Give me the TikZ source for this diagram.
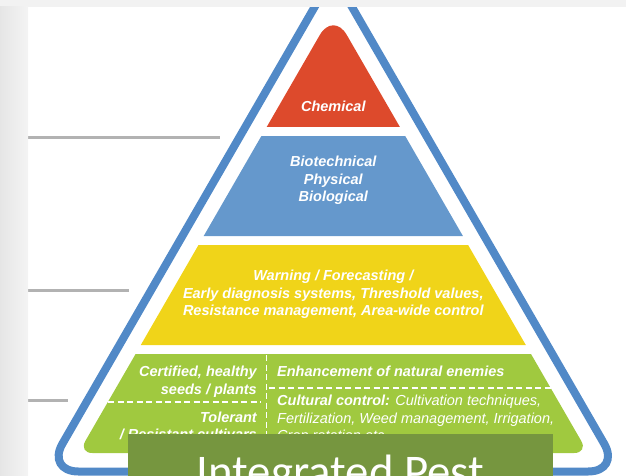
\documentclass[tikz,border=0pt]{standalone}
\usepackage{fontspec}
\usetikzlibrary{positioning}
\newfontfamily\tierfont{Liberation Sans}
\newfontfamily\titlefont{Carlito}
\definecolor{chemred}{RGB}{221,74,44}
\definecolor{techblue}{RGB}{101,152,204}
\definecolor{warnyellow}{RGB}{240,212,25}
\definecolor{cropgreen}{RGB}{160,201,63}
\definecolor{frameblue}{RGB}{81,137,199}
\definecolor{titlegreen}{RGB}{118,150,63}
\definecolor{rulegray}{RGB}{178,178,178}

\begin{document}
\begin{tikzpicture}[x=1pt,y=-1pt,
    tierbold/.style={text=white, inner sep=0pt, anchor=base, font=\tierfont\bfseries\itshape\fontsize{14.5}{17.5}\selectfont},
    tierlight/.style={tierbold, font=\tierfont\itshape\fontsize{14.5}{17.5}\selectfont},
    divider/.style={white, line width=1.4pt, dash pattern=on 6pt off 3.5pt},
    marker/.style={rulegray, line width=3pt}
]
\useasboundingbox (0,0) rectangle (626,476);
\clip (0,0) rectangle (626,476);

% level markers on the left
\draw[marker] (28,137) -- (220,137);
\draw[marker] (28,290) -- (129,290);
\draw[marker] (28,400) -- (68,400);

% outer frame
\draw[frameblue, line width=8pt, rounded corners=32pt] (333.3,-25.4) -- (46.4,471.5) -- (620.2,471.5) -- cycle;

% pyramid levels
\fill[chemred] (266.7,127) [rounded corners=27pt] -- (333.3,11.6) [sharp corners] -- (399.9,127) -- cycle;
\fill[techblue] (261.4,136) -- (203.7,236) -- (462.9,236) -- (405.2,136) -- cycle;
\fill[warnyellow] (198.5,245) -- (140.8,345) -- (525.8,345) -- (468.1,245) -- cycle;
\fill[cropgreen] (531.0,354) -- (135.6,354) [rounded corners=14pt] -- (78.4,453) -- (588.2,453) [sharp corners] -- cycle;

% dashed splits of the base level
\draw[divider] (266.7,355) -- (266.7,453);
\draw[divider] (108,402) -- (261,402);
\draw[divider] (269,388) -- (550.6,388);

\node[tierbold] (chem) at (333.3,112) {Chemical};

\node[tierbold] (biotech) at (333.3,166.7) {Biotechnical};
\node[tierbold] (phys) at (333.3,184.2) {Physical};
\node[tierbold] (bio) at (333.3,201.7) {Biological};

\node[tierbold] (warn) at (333.3,280.7) {Warning / Forecasting /};
\node[tierbold] (diag) at (333.3,298.2) {Early diagnosis systems, Threshold values,};
\node[tierbold] (resist) at (333.3,315.7) {Resistance management, Area-wide control};

\node[tierbold, anchor=base east] (seeds1) at (257,376.7) {Certified, healthy};
\node[tierbold, anchor=base east] (seeds2) at (257,394.2) {seeds / plants};
\node[tierbold, anchor=base east] (tol1) at (257,422) {Tolerant};
\node[tierbold, anchor=base east] (tol2) at (257,439.5) {/ Resistant cultivars};

\node[tierbold, anchor=base west] (enemies) at (277,376.7) {Enhancement of natural enemies};
\node[tierlight, anchor=base west] (cult1) at (277,405.7) {{\bfseries Cultural control:} Cultivation techniques,};
\node[tierlight, anchor=base west] (cult2) at (277,423.2) {Fertilization, Weed management, Irrigation,};
\node[tierlight, anchor=base west] (cult3) at (277,440.7) {Crop rotation etc.};

% title banner
\fill[titlegreen] (128,434) rectangle (553,480);
\node[text=white, inner sep=0pt, anchor=base, font=\titlefont\fontsize{46.8}{50}\selectfont] (title) at (340.5,487) {Integrated Pest};

% window edges
\fill[gray!10] (0,0) rectangle (626,7);
\shade[left color=gray!20, right color=gray!9] (0,7) rectangle (28,476);
\end{tikzpicture}
\end{document}
